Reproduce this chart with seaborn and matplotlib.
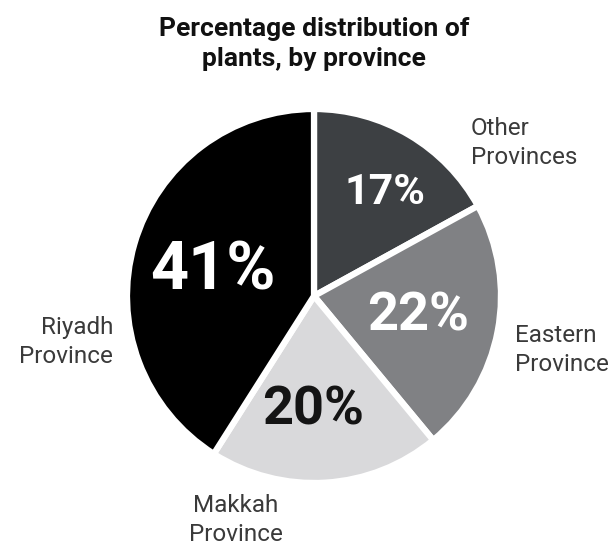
import numpy as np
import pandas as pd
import seaborn as sns
import matplotlib.pyplot as plt

# data
provinces = ['Other\nProvinces', 'Eastern\nProvince', 'Makkah\nProvince', 'Riyadh\nProvince']
share = [17, 22, 20, 41]
colors = ['#3d4043', '#808184', '#d9d9db', '#000000']
pct_colors = ['white', 'white', '#141414', 'white']
pct_sizes = [31, 39, 39, 48]

sns.set_theme(style="white")
plt.rcParams['font.family'] = ['Roboto', 'DejaVu Sans']

W, H = 610, 547
fig = plt.figure(figsize=(W / 100, H / 100), dpi=100)
cx, cy, r = 314, 296, 187
ax = fig.add_axes([(cx - r) / W, (H - cy - r) / H, 2 * r / W, 2 * r / H])

wedges, _ = ax.pie(share, colors=colors, startangle=90, counterclock=False,
                   wedgeprops=dict(edgecolor='white', linewidth=4.5))
ax.set_xlim(-1, 1)
ax.set_ylim(-1, 1)
ax.axis('off')

def px(x, y):
    # pixel position in the picture -> data coords of the pie
    return (x - cx) / r, (cy - y) / r

# percentage labels inside the slices
pct_pos = [(385, 193), (418, 316), (313, 410), (213, 272)]
for v, (x, y), c, s in zip(share, pct_pos, pct_colors, pct_sizes):
    tx, ty = px(x, y)
    ax.text(tx, ty, f'{v}%', color=c, fontsize=s, fontweight='bold',
            ha='center', va='center')

# province names outside
lab_pos = [(471, 143, 'left'), (515, 350, 'left'), (236, 520, 'center'), (113, 342, 'right')]
for name, (x, y, ha) in zip(provinces, lab_pos):
    tx, ty = px(x, y)
    ax.text(tx, ty, name, color='#3a3a3a', fontsize=17.5, ha=ha, va='center',
            linespacing=1.32, clip_on=False)

fig.text(cx / W, 1 - 44 / H, 'Percentage distribution of\nplants, by province',
         ha='center', va='center', fontsize=19, fontweight='bold', color='#111111',
         linespacing=1.35)

fig.savefig('out.png', dpi=100, facecolor='white')
